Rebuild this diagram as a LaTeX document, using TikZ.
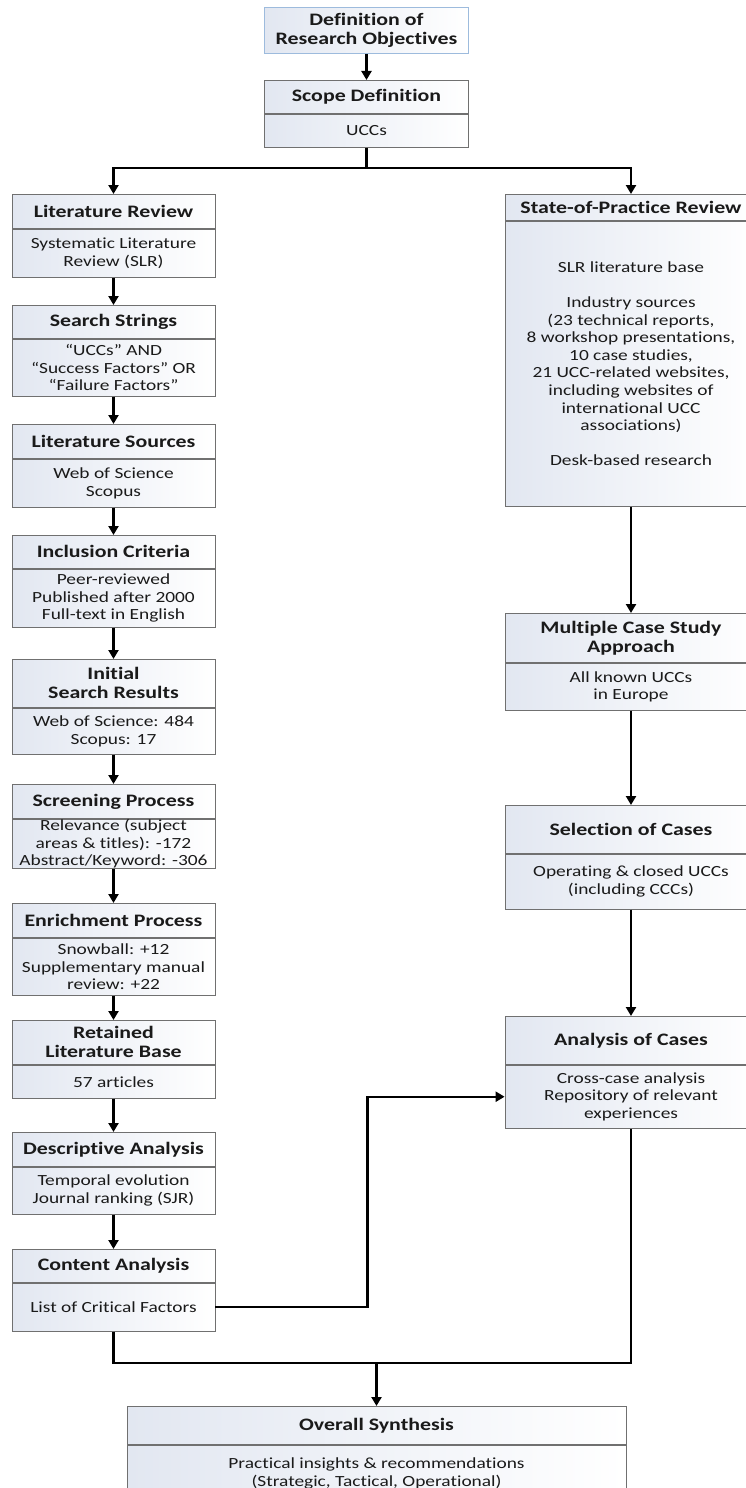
\documentclass[tikz,border=0pt]{standalone}
\usepackage{fontspec}
\setmainfont{Carlito}[FakeStretch=1.25,Ligatures=NoCommon]
\usetikzlibrary{arrows.meta}
\definecolor{boxline}{HTML}{707070}
\definecolor{boxfill}{HTML}{E2E7F1}
\definecolor{topline}{HTML}{9DBBDD}
\definecolor{txt}{HTML}{1A1A1A}
\newcommand{\ttlfont}{\bfseries\fontsize{17.5pt}{19pt}\selectfont}
\newcommand{\bdyfont}{\fontsize{15.5pt}{17.6pt}\selectfont}
\tikzset{
  base/.style={draw=boxline, line width=0.8pt, left color=boxfill, right color=white, align=center, inner sep=0pt, anchor=north, text=txt},
  ttl/.style={base, font=\ttlfont},
  bdy/.style={base, font=\bdyfont},
  lw/.style={minimum width=203pt},
  rw/.style={minimum width=252pt},
  conn/.style={line width=2.3pt, black},
  arr/.style={conn, -{Triangle[width=10pt,length=9pt]}},
}
\begin{document}
\begin{tikzpicture}[x=1pt,y=-1pt]
\useasboundingbox (0,0) rectangle (746,1488);
% top
\node[ttl, draw=topline, minimum width=204pt, minimum height=46pt] (obj) at (366.5,7) {Definition of\\Research Objectives};
\node[ttl, minimum width=204pt, minimum height=33pt] (sc) at (366.5,80) {Scope Definition};
\node[bdy, minimum width=204pt, minimum height=33pt] (scb) at (sc.south) {UCCs};
% left column
\node[ttl,lw,minimum height=34pt] (lr) at (113.5,194) {Literature Review};
\node[bdy,lw,minimum height=48pt] (lrb) at (lr.south) {Systematic Literature\\Review (SLR)};
\node[ttl,lw,minimum height=33pt] (ss) at (113.5,305) {Search Strings};
\node[bdy,lw,minimum height=57pt] (ssb) at (ss.south) {“UCCs” AND\\“Success Factors” OR\\“Failure Factors”};
\node[ttl,lw,minimum height=34pt] (ls) at (113.5,424) {Literature Sources};
\node[bdy,lw,minimum height=48pt] (lsb) at (ls.south) {Web of Science\\Scopus};
\node[ttl,lw,minimum height=33pt] (ic) at (113.5,535) {Inclusion Criteria};
\node[bdy,lw,minimum height=58pt] (icb) at (ic.south) {Peer-reviewed\\Published after 2000\\Full-text in English};
\node[ttl,lw,minimum height=48pt] (isr) at (113.5,659) {Initial\\Search Results};
\node[bdy,lw,minimum height=46pt] (isrb) at (isr.south) {Web of Science: 484\\Scopus: 17};
\node[ttl,lw,minimum height=34pt] (sp) at (113.5,784) {Screening Process};
\node[bdy,lw,minimum height=48pt] (spb) at (sp.south) {Relevance (subject\\areas \& titles): -172\\Abstract/Keyword: -306};
\node[ttl,lw,minimum height=34pt] (ep) at (113.5,903) {Enrichment Process};
\node[bdy,lw,minimum height=57pt] (epb) at (ep.south) {Snowball: +12\\Supplementary manual\\review: +22};
\node[ttl,lw,minimum height=44pt] (rl) at (113.5,1020) {Retained\\Literature Base};
\node[bdy,lw,minimum height=33pt] (rlb) at (rl.south) {57 articles};
\node[ttl,lw,minimum height=34pt] (da) at (113.5,1132) {Descriptive Analysis};
\node[bdy,lw,minimum height=47pt] (dab) at (da.south) {Temporal evolution\\Journal ranking (SJR)};
\node[ttl,lw,minimum height=33pt] (ca) at (113.5,1249) {Content Analysis};
\node[bdy,lw,minimum height=48pt] (cab) at (ca.south) {List of Critical Factors};
% right column
\node[ttl,rw,minimum height=26pt] (spr) at (631,194) {State-of-Practice Review};
\node[bdy,rw,minimum height=285pt] (sprb) at (spr.south) {SLR literature base\\[17.6pt]Industry sources\\(23 technical reports,\\8 workshop presentations,\\10 case studies,\\21 UCC-related websites,\\including websites of\\international UCC\\associations)\\[17.6pt]Desk-based research};
\node[ttl,rw,minimum height=49pt] (mcs) at (631,613) {Multiple Case Study\\Approach};
\node[bdy,rw,minimum height=47pt] (mcsb) at (mcs.south) {All known UCCs\\in Europe};
\node[ttl,rw,minimum height=48pt] (soc) at (631,805) {Selection of Cases};
\node[bdy,rw,minimum height=55pt] (socb) at (soc.south) {Operating \& closed UCCs\\(including CCCs)};
\node[ttl,rw,minimum height=48pt] (aoc) at (631,1016) {Analysis of Cases};
\node[bdy,rw,minimum height=63pt] (aocb) at (aoc.south) {Cross-case analysis\\Repository of relevant\\experiences};
% bottom
\node[ttl,minimum width=499pt,minimum height=38pt] (os) at (376.5,1406) {Overall Synthesis};
\node[bdy,minimum width=499pt,minimum height=56pt] (osb) at (os.south) {Practical insights \& recommendations\\(Strategic, Tactical, Operational)};
% connectors
\draw[arr] (obj.south) -- (sc.north);
\coordinate (split) at (366.5,168);
\draw[conn] (scb.south) -- (split);
\draw[arr] (split) -| (lr.north);
\draw[arr] (split) -| (spr.north);
\draw[arr] (lrb.south) -- (ss.north);
\draw[arr] (ssb.south) -- (ls.north);
\draw[arr] (lsb.south) -- (ic.north);
\draw[arr] (icb.south) -- (isr.north);
\draw[arr] (isrb.south) -- (sp.north);
\draw[arr] (spb.south) -- (ep.north);
\draw[arr] (epb.south) -- (rl.north);
\draw[arr] (rlb.south) -- (da.north);
\draw[arr] (dab.south) -- (ca.north);
\draw[arr] (sprb.south) -- (mcs.north);
\draw[arr] (mcsb.south) -- (soc.north);
\draw[arr] (socb.south) -- (aoc.north);
\path (cab.east) ++(152,0) coordinate (bend);
\draw[arr] (cab.east) -- (bend) |- (aocb.west);
\coordinate (merge) at (376.5,1363);
\draw[conn] (cab.south) |- (aocb.south |- merge) -- (aocb.south);
\draw[arr] (merge) -- (os.north);
\end{tikzpicture}
\end{document}
